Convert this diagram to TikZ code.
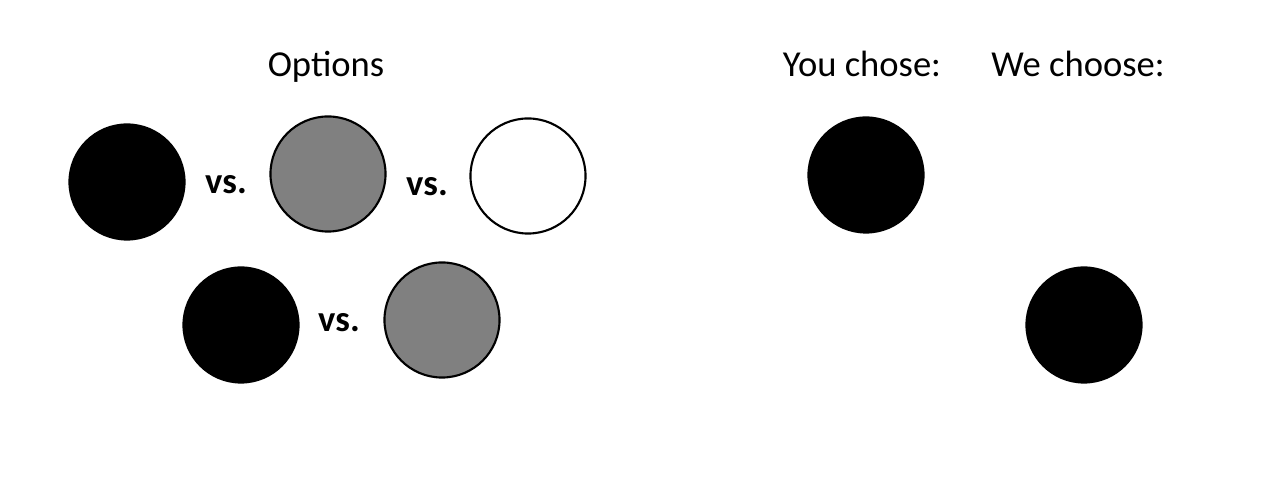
\documentclass[tikz,border=0pt]{standalone}
\usepackage{fontspec}
\setmainfont{Carlito}
\usepackage{tikz}
\usetikzlibrary{positioning}

\begin{document}
\begin{tikzpicture}[x=0.01cm,y=-0.01cm,
  dot/.style={circle,draw=black,line width=0.6pt,minimum size=1.15cm,inner sep=0pt},
  lbl/.style={anchor=base,inner sep=0pt,font=\fontsize{10.4}{12}\selectfont},
  versus/.style={lbl,font=\fontsize{10.4}{12}\selectfont\bfseries}]
\useasboundingbox (0,0) rectangle (1272,480);
% headings
\node[lbl] (options) at (326,77) {Options};
\node[lbl] (youchose) at (862,77) {You chose:};
\node[lbl] (wechoose) at (1078,77) {We choose:};
% first row of options
\node[dot,fill=black] (blackA) at (127,182) {};
\node[versus] (vsA) at (226,194) {vs.};
\node[dot,fill=gray] (grayA) at (328,174) {};
\node[versus] (vsB) at (427,196) {vs.};
\node[dot,fill=white] (whiteA) at (528,176) {};
% second row of options
\node[dot,fill=black] (blackB) at (241,325) {};
\node[versus] (vsC) at (339,332) {vs.};
\node[dot,fill=gray] (grayB) at (442,320) {};
% choices
\node[dot,fill=black] (yours) at (866,175) {};
\node[dot,fill=black] (ours) at (1084,325) {};
\end{tikzpicture}
\end{document}
